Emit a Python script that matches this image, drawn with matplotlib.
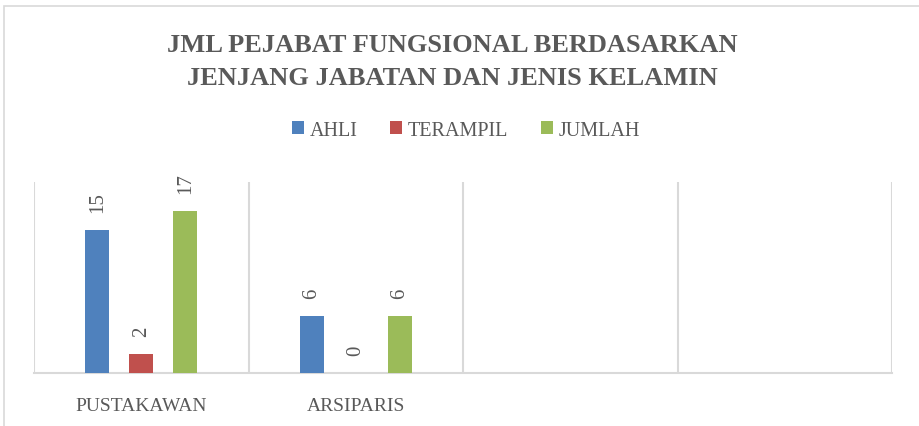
import numpy as np
import matplotlib
matplotlib.use('Agg')
import matplotlib.pyplot as plt
from matplotlib.patches import Rectangle

# Data
categories = ['PUSTAKAWAN', 'ARSIPARIS', '', '']
series_names = ['AHLI', 'TERAMPIL', 'JUMLAH']
ahli = [15, 6, None, None]
terampil = [2, 0, None, None]
jumlah = [17, 6, None, None]
colors = ['#4F81BD', '#C0504D', '#9BBB59']

text_color = '#595959'
grid_color = '#D9D9D9'

plt.rcParams['font.family'] = ['Liberation Serif', 'DejaVu Serif']

fig = plt.figure(figsize=(9.19, 4.27), dpi=100)
ax = fig.add_axes([34 / 919, 53 / 427, 858 / 919, 191 / 427])

# outer chart border
fig.patches.append(Rectangle((4 / 919, -0.1), 1.2, (427 - 7) / 427 + 0.1,
                             transform=fig.transFigure, fill=False,
                             edgecolor=grid_color, linewidth=1.2))

x = np.arange(len(categories))
width = 0.112
offset = 0.205
for i, (name, vals) in enumerate(zip(series_names, [ahli, terampil, jumlah])):
    xs = [xi + (i - 1) * offset for xi, v in zip(x, vals) if v is not None]
    ys = [v for v in vals if v is not None]
    ax.bar(xs, ys, width=width, color=colors[i], label=name, zorder=3)
    for xx, yy in zip(xs, ys):
        ax.annotate(str(yy), (xx, yy), xytext=(0, 13), textcoords='offset points',
                    rotation=90, ha='center', va='bottom', fontsize=15,
                    color=text_color)

ax.set_xlim(-0.5, len(categories) - 0.5)
ax.set_ylim(0, 20)
ax.set_yticks([])
ax.set_xticks(x)
ax.set_xticklabels(categories, fontsize=14, color=text_color)
ax.tick_params(axis='x', length=0, pad=17)

# category separators
for b in np.arange(-0.5, len(categories), 1.0):
    ax.axvline(b, color=grid_color, linewidth=1.5, zorder=1)

for s in ['top', 'left', 'right']:
    ax.spines[s].set_visible(False)
ax.spines['bottom'].set_color(grid_color)
ax.spines['bottom'].set_linewidth(1.5)

fig.text(452 / 919, (427 - 62) / 427,
         'JML PEJABAT FUNGSIONAL BERDASARKAN\nJENJANG JABATAN DAN JENIS KELAMIN',
         ha='center', va='center', fontsize=19, fontweight='bold', color=text_color,
         linespacing=1.55)

leg = fig.legend(loc='center', bbox_to_anchor=(466 / 919, (427 - 131) / 427), ncol=3,
                 frameon=False, fontsize=14.5, handlelength=0.6, handleheight=0.6,
                 handletextpad=0.3, columnspacing=1.6)
for t in leg.get_texts():
    t.set_color(text_color)

fig.savefig('out.png', dpi=100)
